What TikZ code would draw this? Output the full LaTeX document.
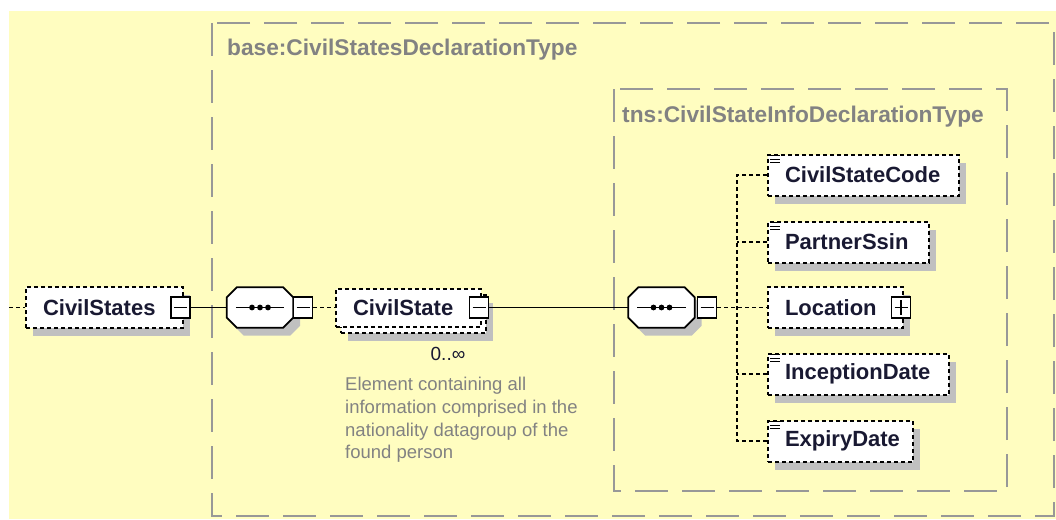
\documentclass[tikz,border=0pt]{standalone}
\usepackage{fontspec}
\setmainfont{Liberation Sans}
\usetikzlibrary{shadows}
\definecolor{bgyellow}{RGB}{255,253,192}
\definecolor{framegray}{RGB}{152,152,152}
\definecolor{ttlgray}{RGB}{130,130,130}
\definecolor{shadegray}{RGB}{192,192,192}
\definecolor{namecol}{RGB}{25,25,50}
\tikzset{
  >=stealth,
  frame/.style={draw=framegray,line width=2.2pt,dash pattern=on 33pt off 14pt},
  ttl/.style={text=ttlgray,font=\bfseries\fontsize{22.7}{26}\selectfont,inner sep=0pt},
  shadowed/.style={drop shadow={shadow xshift=7pt,shadow yshift=-8pt,fill=shadegray,opacity=1}},
  elem/.style={draw=black,fill=white,line width=2pt,dash pattern=on 4pt off 3pt,
    minimum height=41pt,inner ysep=0pt,inner xsep=17pt,align=left,
    text=namecol,font=\bfseries\fontsize{22}{25}\selectfont},
  pmbox/.style={draw=black,fill=white,line width=1.6pt,minimum width=19pt,minimum height=21pt,inner sep=0pt},
  minus/.style={pmbox,path picture={
    \draw[line width=1.4pt] ([xshift=3pt]path picture bounding box.west) -- ([xshift=-3pt]path picture bounding box.east);}},
  plus/.style={pmbox,path picture={
    \draw[line width=1.4pt] ([xshift=3pt]path picture bounding box.west) -- ([xshift=-3pt]path picture bounding box.east);
    \draw[line width=1.4pt] ([yshift=-3pt]path picture bounding box.north) -- ([yshift=3pt]path picture bounding box.south);}},
  seqbox/.style={rectangle,minimum width=66pt,minimum height=40pt,inner sep=0pt},
  octa/.style={draw=black,fill=white,line width=1.8pt,shadowed},
  conn/.style={draw=black,line width=1.8pt},
  dconn/.style={conn,dash pattern=on 4pt off 3pt}
}
\begin{document}
\begin{tikzpicture}[x=1pt,y=-1pt]
  \useasboundingbox (0,0) rectangle (1056,519);
  \fill[bgyellow] (9,11) rectangle (1056,519);
  % type frames
  \draw[frame] (212,23) rectangle (1054,516);
  \node (basettl) at (227,50) [anchor=west,ttl] {base:CivilStatesDeclarationType};
  \draw[frame] (614,89) rectangle (1007,491);
  \node (tnsttl) at (622,117) [anchor=west,ttl] {tns:CivilStateInfoDeclarationType};

  \node (cs) at (25,307.5) [anchor=west,elem,shadowed,text width=123pt] {CivilStates};
  \node (csmin) at (180.5,307.5) [minus] {};
  \node (seq1) at (260,307.5) [seqbox] {};
  \node (seq2) at (661.5,307.5) [seqbox] {};
  % sequence compositors
  \foreach \s in {seq1,seq2} {
    \draw[octa] ([xshift=10pt]\s.north west) -- ([xshift=-10pt]\s.north east)
      -- ([yshift=-10pt]\s.north east) -- ([yshift=10pt]\s.south east)
      -- ([xshift=-10pt]\s.south east) -- ([xshift=10pt]\s.south west)
      -- ([yshift=10pt]\s.south west) -- ([yshift=-10pt]\s.north west) -- cycle;
    \draw[line width=1.5pt] ([xshift=9pt]\s.west) -- ([xshift=-9pt]\s.east);
    \foreach \d in {-8,0,8}
      \fill ([xshift=\d pt]\s.center) circle (2.9pt);
  }
  \node (seq1min) at (303,307.5) [minus] {};
  \node (seq2min) at (707,307.5) [minus] {};

  \node (cstateb) at (340,313.5) [anchor=west,elem,shadowed,minimum height=38pt,text width=111pt] {};
  \node (cstate) at (335,307.5) [anchor=west,elem,minimum height=38pt,text width=111pt] {CivilState};
  \node (cstatemin) at (479,307.5) [minus] {};
  \node (occ) at (448,354) [text=namecol,font=\fontsize{19}{22}\selectfont,inner sep=0pt] {0..∞};
  \node (desc) at (345,377) [anchor=north west,align=left,inner sep=0pt,text=ttlgray,
    font=\fontsize{18.5}{22.7}\selectfont] {Element containing all\\information comprised in the\\nationality datagroup of the\\found person};

  \node (code) at (767,175) [anchor=west,elem,shadowed,text width=157pt] {CivilStateCode};
  \node (ssin) at (767,242) [anchor=west,elem,shadowed,text width=127pt] {PartnerSsin};
  \node (loc) at (767,307.5) [anchor=west,elem,shadowed,text width=101pt] {Location};
  \node (locplus) at (901,307.5) [plus] {};
  \node (incep) at (767,374) [anchor=west,elem,shadowed,text width=147pt] {InceptionDate};
  \node (exp) at (767,441) [anchor=west,elem,shadowed,text width=111pt] {ExpiryDate};
  \foreach \n in {code,ssin,incep,exp}
    \foreach \k in {2,5.5,9}
      \draw[line width=0.9pt] ([shift={(3,\k)}]\n.north west) -- ++(10,0);

  \coordinate (stub) at (9,307.5);
  \draw[dconn] (stub) -- (cs.west);
  \draw[conn] (csmin.east) -- (seq1.west);
  \draw[dconn] (seq1min.east) -- (cstate.west);
  \draw[conn] (cstatemin.east) -- (seq2.west);
  \draw[dconn] (seq2min.east) -- (loc.west);
  \draw[dconn] (code.west) -- ++(-30,0) |- (exp.west);
  \draw[dconn] (ssin.west) -- ++(-30,0);
  \draw[dconn] (incep.west) -- ++(-30,0);
\end{tikzpicture}
\end{document}
